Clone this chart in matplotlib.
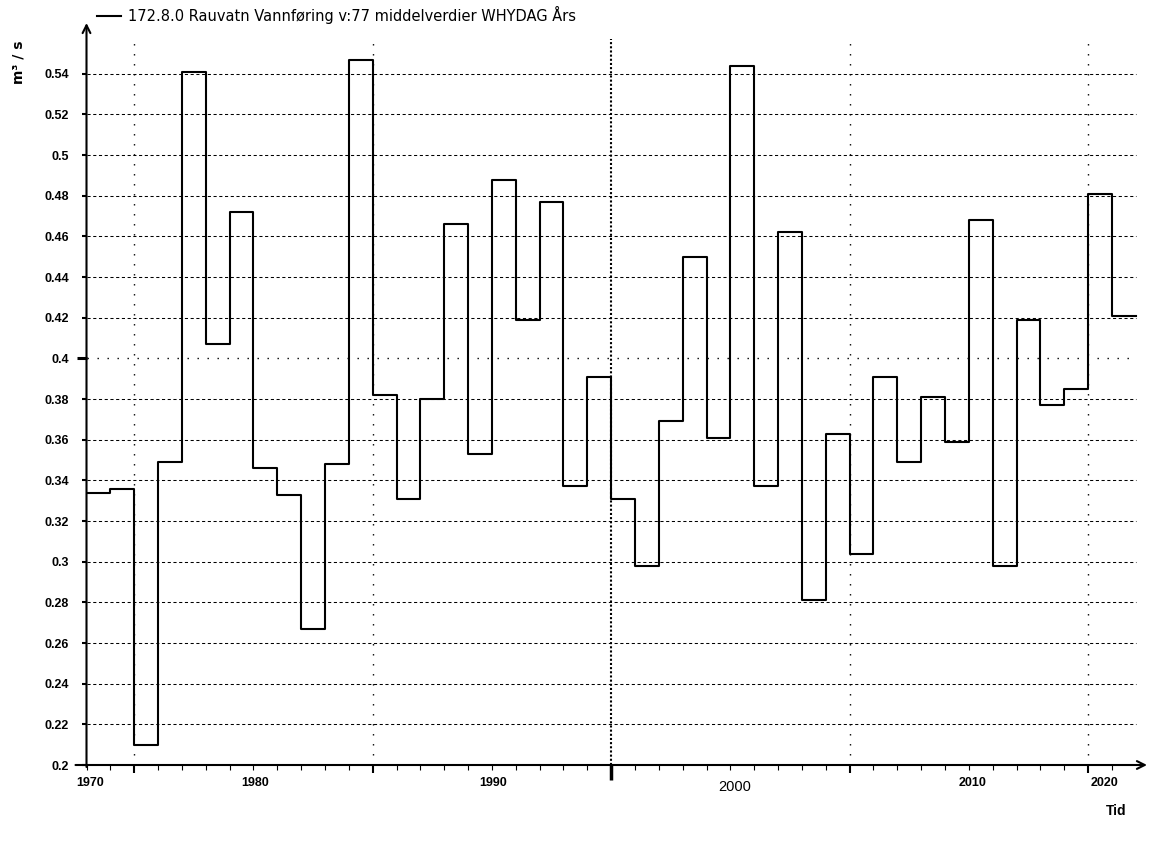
import numpy as np
import matplotlib
matplotlib.use("Agg")
import matplotlib.pyplot as plt
from matplotlib.transforms import blended_transform_factory

# ---------------------------
# Data (annual mean discharge, m3/s)
# ---------------------------
years = np.arange(1973, 2017)
flow = [0.334, 0.336, 0.210, 0.349, 0.541, 0.407, 0.472, 0.346, 0.333, 0.267,
        0.348, 0.547, 0.382, 0.331, 0.380, 0.466, 0.353, 0.488, 0.419, 0.477,
        0.337, 0.391, 0.331, 0.298, 0.369, 0.450, 0.361, 0.544, 0.337, 0.462,
        0.281, 0.363, 0.304, 0.391, 0.349, 0.381, 0.359, 0.468, 0.298, 0.419,
        0.377, 0.385, 0.481, 0.421]

yticks = [0.2, 0.22, 0.24, 0.26, 0.28, 0.3, 0.32, 0.34, 0.36, 0.38, 0.4,
          0.42, 0.44, 0.46, 0.48, 0.5, 0.52, 0.54]
ytick_labels = ["0.2", "0.22", "0.24", "0.26", "0.28", "0.3", "0.32", "0.34",
                "0.36", "0.38", "0.4", "0.42", "0.44", "0.46", "0.48", "0.5",
                "0.52", "0.54"]
vgrid_years = [1975, 1985, 1995, 2005, 2015]
xlabel_text = ["1970", "1980", "1990", "2000", "2010", "2020"]
xlabel_pos = [1973.15, 1980.05, 1990.05, 2000.18, 2010.14, 2015.7]

series_name = "172.8.0 Rauvatn Vannføring v:77 middelverdier WHYDAG Års"

plt.rcParams['font.family'] = ['Liberation Sans', 'DejaVu Sans']

W, H = 1149, 849
fig = plt.figure(figsize=(W / 100, H / 100), dpi=100)
ax = fig.add_axes([86.5 / W, 84 / H, (1147 - 86.5) / W, 742 / H])

ax.set_xlim(1973, 2017.47)
ax.set_ylim(0.2, 0.565)

# ---------------------------
# Grid
# ---------------------------
x_end = years[-1] + 1
for v in yticks[1:]:
    if abs(v - 0.4) < 1e-9:
        ax.hlines(v, years[0], x_end, color="black", lw=1.0,
                  linestyle=(0, (1, 6.2)), zorder=1)
    else:
        ax.hlines(v, years[0], x_end, color="black", lw=0.75,
                  linestyle=(0, (3, 2.5)), zorder=1)

for yr in vgrid_years:
    if yr == 1995:
        ax.vlines(yr, 0.2, 0.557, color="black", lw=1.5,
                  linestyle=(0, (1, 1)), zorder=1)
    else:
        ax.vlines(yr, 0.2, 0.557, color="black", lw=1.0,
                  linestyle=(0, (1, 6.2)), zorder=1)

# ---------------------------
# Step series
# ---------------------------
edges = np.append(years, years[-1] + 1)
ax.step(edges, np.append(flow, flow[-1]), where="post", color="black",
        lw=1.5, label=series_name, zorder=3)

# ---------------------------
# Axes, ticks
# ---------------------------
for s in ax.spines.values():
    s.set_visible(False)

ax.annotate("", xy=(1.0, 0), xytext=(-11 / 1060, 0), xycoords="axes fraction",
            arrowprops=dict(arrowstyle="->", lw=1.5, color="black",
                            shrinkA=0, shrinkB=0, mutation_scale=14))
ax.annotate("", xy=(0, 1.0), xytext=(0, -2 / 742), xycoords="axes fraction",
            arrowprops=dict(arrowstyle="->", lw=1.5, color="black",
                            shrinkA=0, shrinkB=0, mutation_scale=14))

ax.set_yticks(yticks)
ax.set_yticklabels(ytick_labels, fontsize=9, fontweight="bold")
ax.tick_params(axis="y", length=3.6, width=1.5, pad=9, direction="out")
for t, v in zip(ax.yaxis.get_major_ticks(), yticks):
    if abs(v - 0.4) < 1e-9:
        t.tick1line.set_markersize(7.5)
        t.tick1line.set_markeredgewidth(2.2)

ax.set_xticks(vgrid_years)
ax.set_xticklabels([])
ax.set_xticks(years, minor=True)
ax.tick_params(axis="x", which="major", length=5.8, width=1.5, direction="out")
ax.tick_params(axis="x", which="minor", length=3.6, width=0.8, direction="out")
for t, yr in zip(ax.xaxis.get_major_ticks(), vgrid_years):
    if yr == 1995:
        t.tick1line.set_markersize(11)
        t.tick1line.set_markeredgewidth(2.5)

trans = blended_transform_factory(ax.transData, ax.transAxes)
for lab, xp in zip(xlabel_text, xlabel_pos):
    if lab == "2000":
        ax.annotate(lab, xy=(xp, 0), xycoords=trans, xytext=(0, -10.5),
                    textcoords="offset points", ha="center", va="top",
                    fontsize=10.5)
    else:
        ax.annotate(lab, xy=(xp, 0), xycoords=trans, xytext=(0, -8.5),
                    textcoords="offset points", ha="center", va="top",
                    fontsize=9, fontweight="bold")

fig.text(18 / W, 1 - 62 / H, "m³ / s", rotation=90, ha="center", va="center",
         fontsize=10, fontweight="bold", family="DejaVu Sans")
fig.text(1116 / W, 1 - 811 / H, "Tid", ha="center", va="center",
         fontsize=10, fontweight="bold")

ax.legend(loc="upper left", bbox_to_anchor=(97 / W, 1 - 6 / H),
          bbox_transform=fig.transFigure, frameon=False,
          prop={"family": "DejaVu Sans", "size": 10.5},
          handlelength=1.65, handletextpad=0.5, borderpad=0, borderaxespad=0)

fig.savefig("out.png", dpi=100)
